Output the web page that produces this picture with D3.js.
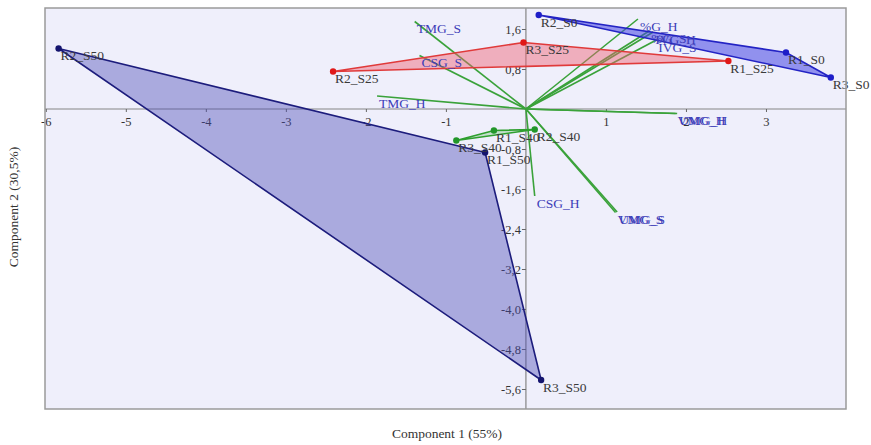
<!DOCTYPE html>
<html>
<head>
<meta charset="utf-8">
<script src="https://cdn.jsdelivr.net/npm/d3@7"></script>
<style>
  body { margin: 0; background: #fff; }
  svg text { font-family: "Liberation Serif", "Times New Roman", serif; }
</style>
</head>
<body>
<div id="chart"></div>
<script>
// sample scores (component 1, component 2)
var sampleNames = ["R1_S0", "R2_S0", "R3_S0", "R1_S25", "R2_S25", "R3_S25",
                   "R1_S40", "R2_S40", "R3_S40", "R1_S50", "R2_S50", "R3_S50"];
var samplePC1 = [3.25, 0.16, 3.81, 2.53, -2.41, -0.03, -0.40, 0.11, -0.87, -0.51, -5.84, 0.19];
var samplePC2 = [1.13, 1.88, 0.63, 0.96, 0.75, 1.33, -0.43, -0.41, -0.63, -0.87, 1.21, -5.42];
var sampleGroup = ["S0", "S0", "S0", "S25", "S25", "S25", "S40", "S40", "S40", "S50", "S50", "S50"];

// groups and the order of their hull vertices
var groups = ["S0", "S25", "S40", "S50"];
var hullOrder = {
  S0: ["R2_S0", "R1_S0", "R3_S0"],
  S25: ["R2_S25", "R3_S25", "R1_S25"],
  S40: ["R3_S40", "R1_S40", "R2_S40"],
  S50: ["R2_S50", "R1_S50", "R3_S50"]
};

// variable loadings
var varNames = ["%G_H", "%G_S", "IVG_H", "IVG_S", "TMG_H", "TMG_S", "CSG_H", "CSG_S",
                "VMG_H", "UMG_H", "VMG_S", "UMG_S"];
var varPC1 = [1.40, 1.54, 1.59, 1.63, -1.86, -1.39, 0.11, -1.33, 1.87, 1.89, 1.12, 1.14];
var varPC2 = [1.80, 1.56, 1.54, 1.38, 0.26, 1.75, -1.74, 1.07, -0.09, -0.09, -2.07, -2.06];

var xTicks = [-6, -5, -4, -3, -2, -1, 1, 2, 3];
var yTicks = [1.6, 0.8, -0.8, -1.6, -2.4, -3.2, -4.0, -4.8, -5.6];

var colors = {
  S0:  {fill: "#4444e4", opacity: 0.55, stroke: "#2323c4", point: "#1e1ec8"},
  S25: {fill: "#f06070", opacity: 0.45, stroke: "#e03a3a", point: "#e01818"},
  S40: {fill: "#40b040", opacity: 0.25, stroke: "#2f9f2f", point: "#22962a"},
  S50: {fill: "#4b4bb4", opacity: 0.42, stroke: "#1c1c7c", point: "#14146e"}
};

var width = 871, height = 445;
var plotLeft = 45, plotRight = 846, plotTop = 8, plotBottom = 409;

var commaLocale = d3.formatLocale({decimal: ",", thousands: ".", grouping: [3], currency: ["", ""], minus: "-"});
var fmtY = commaLocale.format(".1f");
var fmtX = commaLocale.format("d");

var svg = d3.select("#chart")
  .append("svg")
  .attr("width", width)
  .attr("height", height);

var xScale = d3.scaleLinear().domain([-6.01, 4.0]).range([plotLeft, plotRight]);
var yScale = d3.scaleLinear().domain([-6.0, 2.02]).range([plotBottom, plotTop]);

// plot background
svg.append("rect")
  .attr("x", plotLeft).attr("y", plotTop)
  .attr("width", plotRight - plotLeft).attr("height", plotBottom - plotTop)
  .attr("fill", "#efeffb");

// axes through the origin
svg.append("line")
  .attr("x1", plotLeft).attr("x2", plotRight)
  .attr("y1", yScale(0)).attr("y2", yScale(0))
  .attr("stroke", "#858585").attr("stroke-width", 1.2);
svg.append("line")
  .attr("x1", xScale(0)).attr("x2", xScale(0))
  .attr("y1", plotTop).attr("y2", plotBottom)
  .attr("stroke", "#858585").attr("stroke-width", 1.2);

var xAxis = svg.append("g")
  .attr("transform", "translate(0," + yScale(0) + ")")
  .call(d3.axisBottom(xScale).tickValues(xTicks).tickFormat(fmtX).tickSize(3).tickPadding(5));
var yAxis = svg.append("g")
  .attr("transform", "translate(" + xScale(0) + ",0)")
  .call(d3.axisLeft(yScale).tickValues(yTicks).tickFormat(fmtY).tickSize(4).tickPadding(1));

[xAxis, yAxis].forEach(function(a) {
  a.select(".domain").remove();
  a.selectAll("line").attr("stroke", "#666");
  a.selectAll("text")
    .attr("fill", "#333")
    .style("font-size", "12.5px")
    .style("font-family", "'Liberation Serif', serif");
});

// loading vectors
svg.append("g")
  .selectAll("line")
  .data(varNames)
  .enter()
  .append("line")
  .attr("x1", xScale(0)).attr("y1", yScale(0))
  .attr("x2", function(d, i) { return xScale(varPC1[i]); })
  .attr("y2", function(d, i) { return yScale(varPC2[i]); })
  .attr("stroke", "#3aa23a")
  .attr("stroke-width", 1.6);

// group hulls
function samplePos(name) {
  var i = sampleNames.indexOf(name);
  return [xScale(samplePC1[i]), yScale(samplePC2[i])];
}

svg.append("g")
  .selectAll("path")
  .data(groups)
  .enter()
  .append("path")
  .attr("d", function(g) { return "M" + hullOrder[g].map(samplePos).join("L") + "Z"; })
  .attr("fill", function(g) { return colors[g].fill; })
  .attr("fill-opacity", function(g) { return colors[g].opacity; })
  .attr("stroke", function(g) { return colors[g].stroke; })
  .attr("stroke-width", 1.6)
  .attr("stroke-linejoin", "round");

// sample points
svg.append("g")
  .selectAll("circle")
  .data(sampleNames)
  .enter()
  .append("circle")
  .attr("cx", function(d, i) { return xScale(samplePC1[i]); })
  .attr("cy", function(d, i) { return yScale(samplePC2[i]); })
  .attr("r", 3.2)
  .attr("fill", function(d, i) { return colors[sampleGroup[i]].point; });

// sample labels
svg.append("g")
  .selectAll("text")
  .data(sampleNames)
  .enter()
  .append("text")
  .attr("x", function(d, i) { return xScale(samplePC1[i]) + 2; })
  .attr("y", function(d, i) { return yScale(samplePC2[i]) + 11.5; })
  .attr("fill", "#3a3a3a")
  .style("font-size", "13.5px")
  .text(function(d) { return d; });

// variable labels
svg.append("g")
  .selectAll("text")
  .data(varNames)
  .enter()
  .append("text")
  .attr("x", function(d, i) { return xScale(varPC1[i]) + 2; })
  .attr("y", function(d, i) { return yScale(varPC2[i]) + 11.5; })
  .attr("fill", "#3d3db8")
  .style("font-size", "13.5px")
  .text(function(d) { return d; });

// plot frame
svg.append("rect")
  .attr("x", plotLeft).attr("y", plotTop)
  .attr("width", plotRight - plotLeft).attr("height", plotBottom - plotTop)
  .attr("fill", "none")
  .attr("stroke", "#9a9a9a")
  .attr("stroke-width", 1.5);

// axis titles
svg.append("text")
  .attr("x", 447).attr("y", 438)
  .attr("text-anchor", "middle")
  .attr("fill", "#333")
  .style("font-size", "13.5px")
  .text("Component 1 (55%)");

svg.append("text")
  .attr("transform", "translate(18,207) rotate(-90)")
  .attr("text-anchor", "middle")
  .attr("fill", "#333")
  .style("font-size", "13.5px")
  .text("Component 2 (30,5%)");
</script>
</body>
</html>
